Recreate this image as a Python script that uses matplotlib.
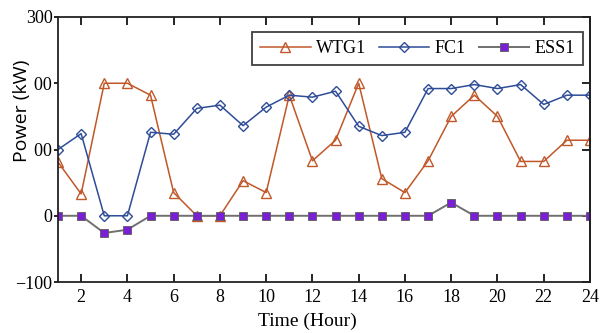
import matplotlib
matplotlib.use("Agg")
import matplotlib.pyplot as plt

hours = list(range(1, 25))
wtg1 = [81, 33, 200, 200, 182, 35, 0, 0, 53, 35, 182, 83, 114, 200, 56, 35, 83, 150, 182, 150, 82, 82, 114, 114]
fc1 = [100, 124, 0, 0, 126, 123, 162, 167, 136, 164, 182, 179, 188, 135, 121, 126, 192, 192, 198, 192, 198, 168, 182, 182]
ess1 = [0, 0, -26, -21, 0, 0, 0, 0, 0, 0, 0, 0, 0, 0, 0, 0, 0, 20, 0, 0, 0, 0, 0, 0]
xticks = list(range(2, 25, 2))
yticks = [-100, 0, 100, 200, 300]

serif = ["Liberation Serif", "DejaVu Serif"]
fig = plt.figure(figsize=(6.08, 3.33), dpi=100)
ax = fig.add_axes([0.0954, 0.153, 0.875, 0.796])

c_wtg = "#C0582A"
c_fc = "#2E4C98"
ax.plot(hours, wtg1, color=c_wtg, lw=1.1, marker="^", ms=7, mfc="none", mec=c_wtg, mew=1.0, label="WTG1")
ax.plot(hours, fc1, color=c_fc, lw=1.1, marker="D", ms=5.5, mfc="none", mec=c_fc, mew=1.0, label="FC1")
ax.plot(hours, ess1, color="#707070", lw=1.4, marker="s", ms=5.5, mfc="#7A1FD6", mec="#5a5a5a", mew=0.6, label="ESS1")

ax.set_xlim(1, 24)
ax.set_ylim(-100, 300)
ax.set_xticks(xticks)
ax.set_yticks(yticks)
for lab in ax.get_xticklabels() + ax.get_yticklabels():
    lab.set_family(serif)
    lab.set_fontsize(13)
ax.tick_params(axis="x", direction="in", length=6, width=1.2, top=True, pad=5)
ax.tick_params(axis="y", direction="out", length=3, width=1.2, pad=1)
sec = ax.secondary_yaxis("right")
sec.set_yticks(yticks)
sec.tick_params(direction="in", length=6, width=1.2, labelright=False)
for s in ax.spines.values():
    s.set_linewidth(1.3)
    s.set_color("#222222")
sec.spines["right"].set_linewidth(1.3)

ax.set_xlabel("Time (Hour)", family=serif, fontsize=14, labelpad=2)
ax.xaxis.set_label_coords(0.468, -0.115)
ax.set_ylabel("Power (kW)", family=["Open Sans", "DejaVu Sans"], fontsize=14,
              bbox=dict(facecolor="white", edgecolor="none", pad=1.5))
ax.yaxis.set_label_coords(-0.05, 0.645)
ax.yaxis.label.set_zorder(5)

leg = ax.legend(loc="upper right", ncol=3, frameon=True, fancybox=False, edgecolor="#111111",
                prop={"family": serif, "size": 13}, handlelength=2.8, columnspacing=0.7,
                handletextpad=0.3, borderpad=0.45, borderaxespad=0.0,
                bbox_to_anchor=(0.987, 0.943))
leg.get_frame().set_linewidth(1.3)

fig.savefig("out.png", dpi=100)
